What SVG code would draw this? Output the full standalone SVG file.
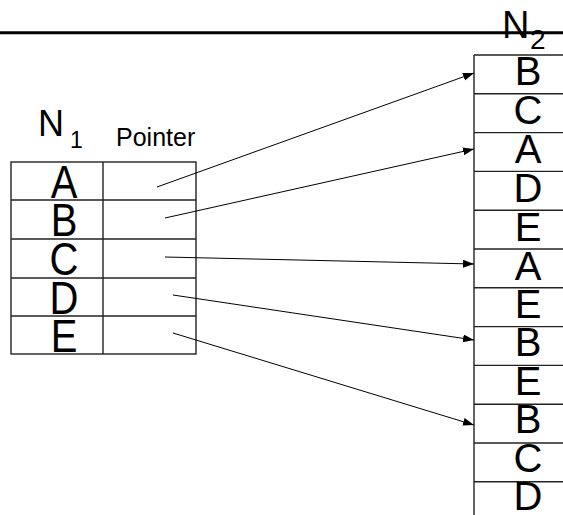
<svg xmlns="http://www.w3.org/2000/svg" width="563" height="515" viewBox="0 0 563 515">
  <defs>
    <marker id="arrow" markerUnits="userSpaceOnUse" markerWidth="12" markerHeight="10" refX="11" refY="4" orient="auto">
      <path d="M0,0 L11,4 L0,8 Z" fill="#000"/>
    </marker>
    <style>
      .t { font-family: "Liberation Sans", Arial, sans-serif; fill: #000; }
      .cell { fill: none; stroke: #222; stroke-width: 1.4; }
      .big { font-size: 40px; text-anchor: middle; }
      .conn line { stroke: #000; stroke-width: 1; marker-end: url(#arrow); }
    </style>
  </defs>
  <rect width="563" height="515" fill="#fff"/>

  <!-- heading rule -->
  <line x1="0" y1="32.7" x2="563" y2="32.7" stroke="#000" stroke-width="3"/>

  <!-- N1 table with pointer column -->
  <g id="n1">
    <text class="t" x="38" y="136" font-size="36">N</text>
    <text class="t" x="70" y="148" font-size="23">1</text>
    <text class="t" x="116" y="146" font-size="25">Pointer</text>
    <rect class="cell" x="11" y="162" width="185" height="192"/>
    <line class="cell" x1="103" y1="162" x2="103" y2="354"/>
    <line class="cell" x1="11" y1="200" x2="196" y2="200"/>
    <line class="cell" x1="11" y1="239" x2="196" y2="239"/>
    <line class="cell" x1="11" y1="278" x2="196" y2="278"/>
    <line class="cell" x1="11" y1="316" x2="196" y2="316"/>
    <g class="t big">
      <text transform="translate(64,198) scale(1,1.17)">A</text>
      <text transform="translate(64,236) scale(1,1.17)">B</text>
      <text transform="translate(64,275) scale(1,1.17)">C</text>
      <text transform="translate(64,314) scale(1,1.17)">D</text>
      <text transform="translate(64,352) scale(1,1.17)">E</text>
    </g>
  </g>

  <!-- N2 column -->
  <g id="n2">
    <text class="t" x="502" y="38" font-size="38">N</text>
    <text class="t" x="530" y="49" font-size="28">2</text>
    <line class="cell" x1="474" y1="55" x2="474" y2="515"/>
    <g class="cell">
      <line x1="474" y1="55" x2="563" y2="55"/>
      <line x1="474" y1="93.8" x2="563" y2="93.8"/>
      <line x1="474" y1="132.6" x2="563" y2="132.6"/>
      <line x1="474" y1="171.4" x2="563" y2="171.4"/>
      <line x1="474" y1="210.2" x2="563" y2="210.2"/>
      <line x1="474" y1="249" x2="563" y2="249"/>
      <line x1="474" y1="287.8" x2="563" y2="287.8"/>
      <line x1="474" y1="326.6" x2="563" y2="326.6"/>
      <line x1="474" y1="365.4" x2="563" y2="365.4"/>
      <line x1="474" y1="404.2" x2="563" y2="404.2"/>
      <line x1="474" y1="443" x2="563" y2="443"/>
      <line x1="474" y1="481.8" x2="563" y2="481.8"/>
    </g>
    <g class="t big">
      <text x="528" y="85">B</text>
      <text x="528" y="124">C</text>
      <text x="528" y="163">A</text>
      <text x="528" y="202">D</text>
      <text x="528" y="241">E</text>
      <text x="528" y="280">A</text>
      <text x="528" y="318">E</text>
      <text x="528" y="356">B</text>
      <text x="528" y="395">E</text>
      <text x="528" y="433">B</text>
      <text x="528" y="472">C</text>
      <text x="528" y="510">D</text>
    </g>
  </g>

  <!-- pointer connectors -->
  <g id="connectors" class="conn">
    <line x1="157" y1="187" x2="474" y2="73"/>
    <line x1="165" y1="218" x2="474" y2="149"/>
    <line x1="165" y1="257" x2="474" y2="264"/>
    <line x1="173" y1="295" x2="474" y2="340"/>
    <line x1="173" y1="333" x2="474" y2="425"/>
  </g>
</svg>
